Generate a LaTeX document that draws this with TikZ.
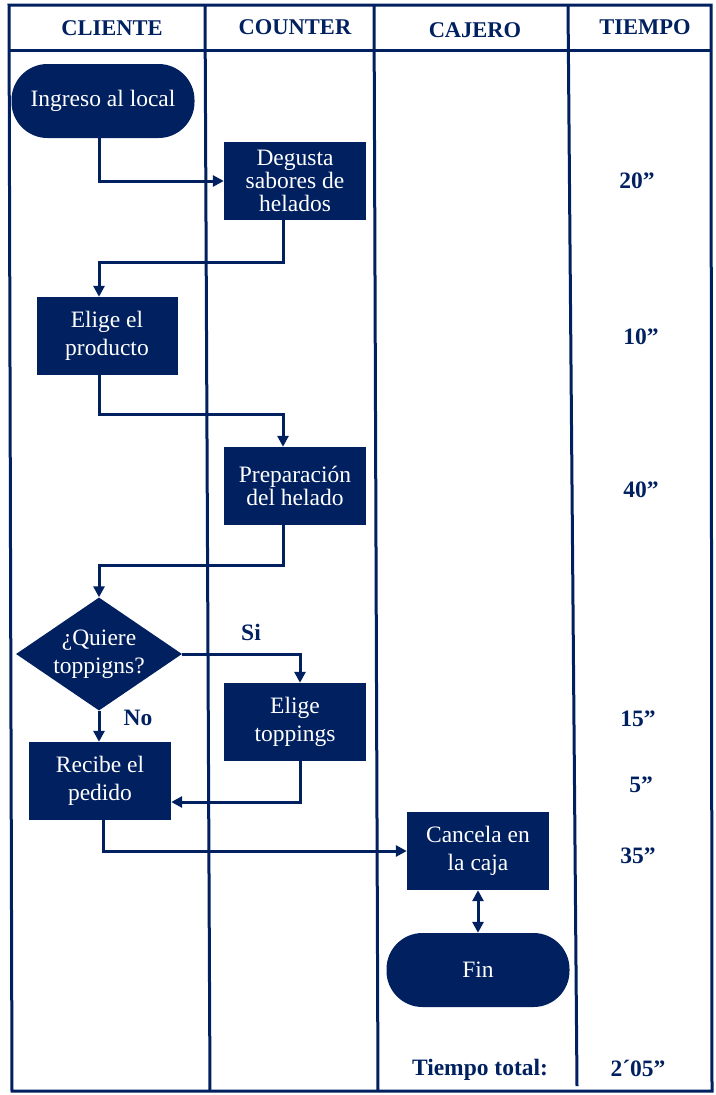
\documentclass[tikz,border=0pt]{standalone}
\usepackage{fontspec}
\setmainfont{Liberation Serif}
\usetikzlibrary{arrows.meta,shapes.geometric}
\definecolor{navy}{RGB}{0,32,96}
\begin{document}
\begin{tikzpicture}[x=1pt,y=-1pt,
  lane/.style={draw=navy,line width=3pt},
  box/.style={fill=navy,text=white,inner sep=0pt,align=center,
    font=\fontsize{23.5}{28}\selectfont,minimum width=142pt,minimum height=78pt},
  tight/.style={font=\fontsize{23.5}{23}\selectfont},
  term/.style={box,rounded corners=36pt,minimum width=183pt,minimum height=74pt},
  decision/.style={diamond,fill=navy,text=white,align=center,inner sep=0pt,
    aspect=1.5,minimum width=166pt,minimum height=113pt,
    font=\fontsize{23.5}{28}\selectfont},
  head/.style={font=\fontsize{22.5}{26}\selectfont\bfseries,text=navy},
  tlabel/.style={font=\fontsize{23.5}{28}\selectfont\bfseries,text=navy},
  flow/.style={draw=navy,line width=3pt,-{Triangle[length=11pt,width=11pt]}},
  twoway/.style={draw=navy,line width=3pt,{Triangle[length=11pt,width=11pt]}-{Triangle[length=11pt,width=11pt]}}]
\useasboundingbox (0,0) rectangle (715,1095);

% swim lane frame
\draw[lane] (9,5) -- (711,5) -- (712,1091) -- (12,1091) -- cycle;
\draw[lane] (9,50) -- (711,50);
\draw[lane] (205,5) -- (210,1091);
\draw[lane] (374,5) -- (378,1091);
\draw[lane] (568,5) -- (577,1086);

% lane titles
\node[head] (hcli) at (112,28) {CLIENTE};
\node[head] (hcou) at (295,27) {COUNTER};
\node[head] (hcaj) at (475,30) {CAJERO};
\node[head] (htie) at (645,27) {TIEMPO};

% process steps
\node[term] (ingreso) at (103,101) {Ingreso al local};
\node[box,tight] (degusta) at (295,181) {Degusta\\sabores de\\helados};
\node[box,minimum width=141pt] (elige) at (107,336) {Elige el\\producto};
\node[box,tight] (prep) at (295,486) {Preparación\\del helado};
\node[decision] (quiere) at (99,654) {¿Quiere\\toppigns?};
\node[box] (toppings) at (295,722) {Elige\\toppings};
\node[box] (recibe) at (100,781) {Recibe el\\pedido};
\node[box] (cancela) at (478,851) {Cancela en\\la caja};
\node[term] (fin) at (478,970) {Fin};

% connectors
\draw[flow] ([xshift=-4pt]ingreso.south) |- (degusta.west);
\draw[flow] ([xshift=-12pt]degusta.south) |- (99,262) -| ([xshift=-8pt]elige.north);
\draw[flow] ([xshift=-8pt]elige.south) |- (283,414) -| ([xshift=-12pt]prep.north);
\draw[flow] ([xshift=-12pt]prep.south) |- (99,565) -| (quiere.north);
\draw[flow] (quiere.east) -| ([xshift=5pt]toppings.north);
\draw[flow] (quiere.south) -- (quiere.south |- recibe.north);
\draw[flow] ([xshift=5pt]toppings.south) |- ([yshift=-21pt]recibe.east);
\draw[flow] ([xshift=3pt]recibe.south) |- (cancela.west);
\draw[twoway] (cancela.south) -- (fin.north);

% branch labels
\node[tlabel] (si) at (251,632) {Si};
\node[tlabel] (no) at (138,718) {No};

% times
\node[tlabel] (t1) at (637,181) {20”};
\node[tlabel] (t2) at (641,337) {10”};
\node[tlabel] (t3) at (641,490) {40”};
\node[tlabel] (t4) at (638,719) {15”};
\node[tlabel] (t5) at (641,785) {5”};
\node[tlabel] (t6) at (638,856) {35”};
\node[tlabel] (total) at (480,1070) {Tiempo total:};
\node[tlabel] (ttot) at (638,1068) {2´05”};
\end{tikzpicture}
\end{document}
